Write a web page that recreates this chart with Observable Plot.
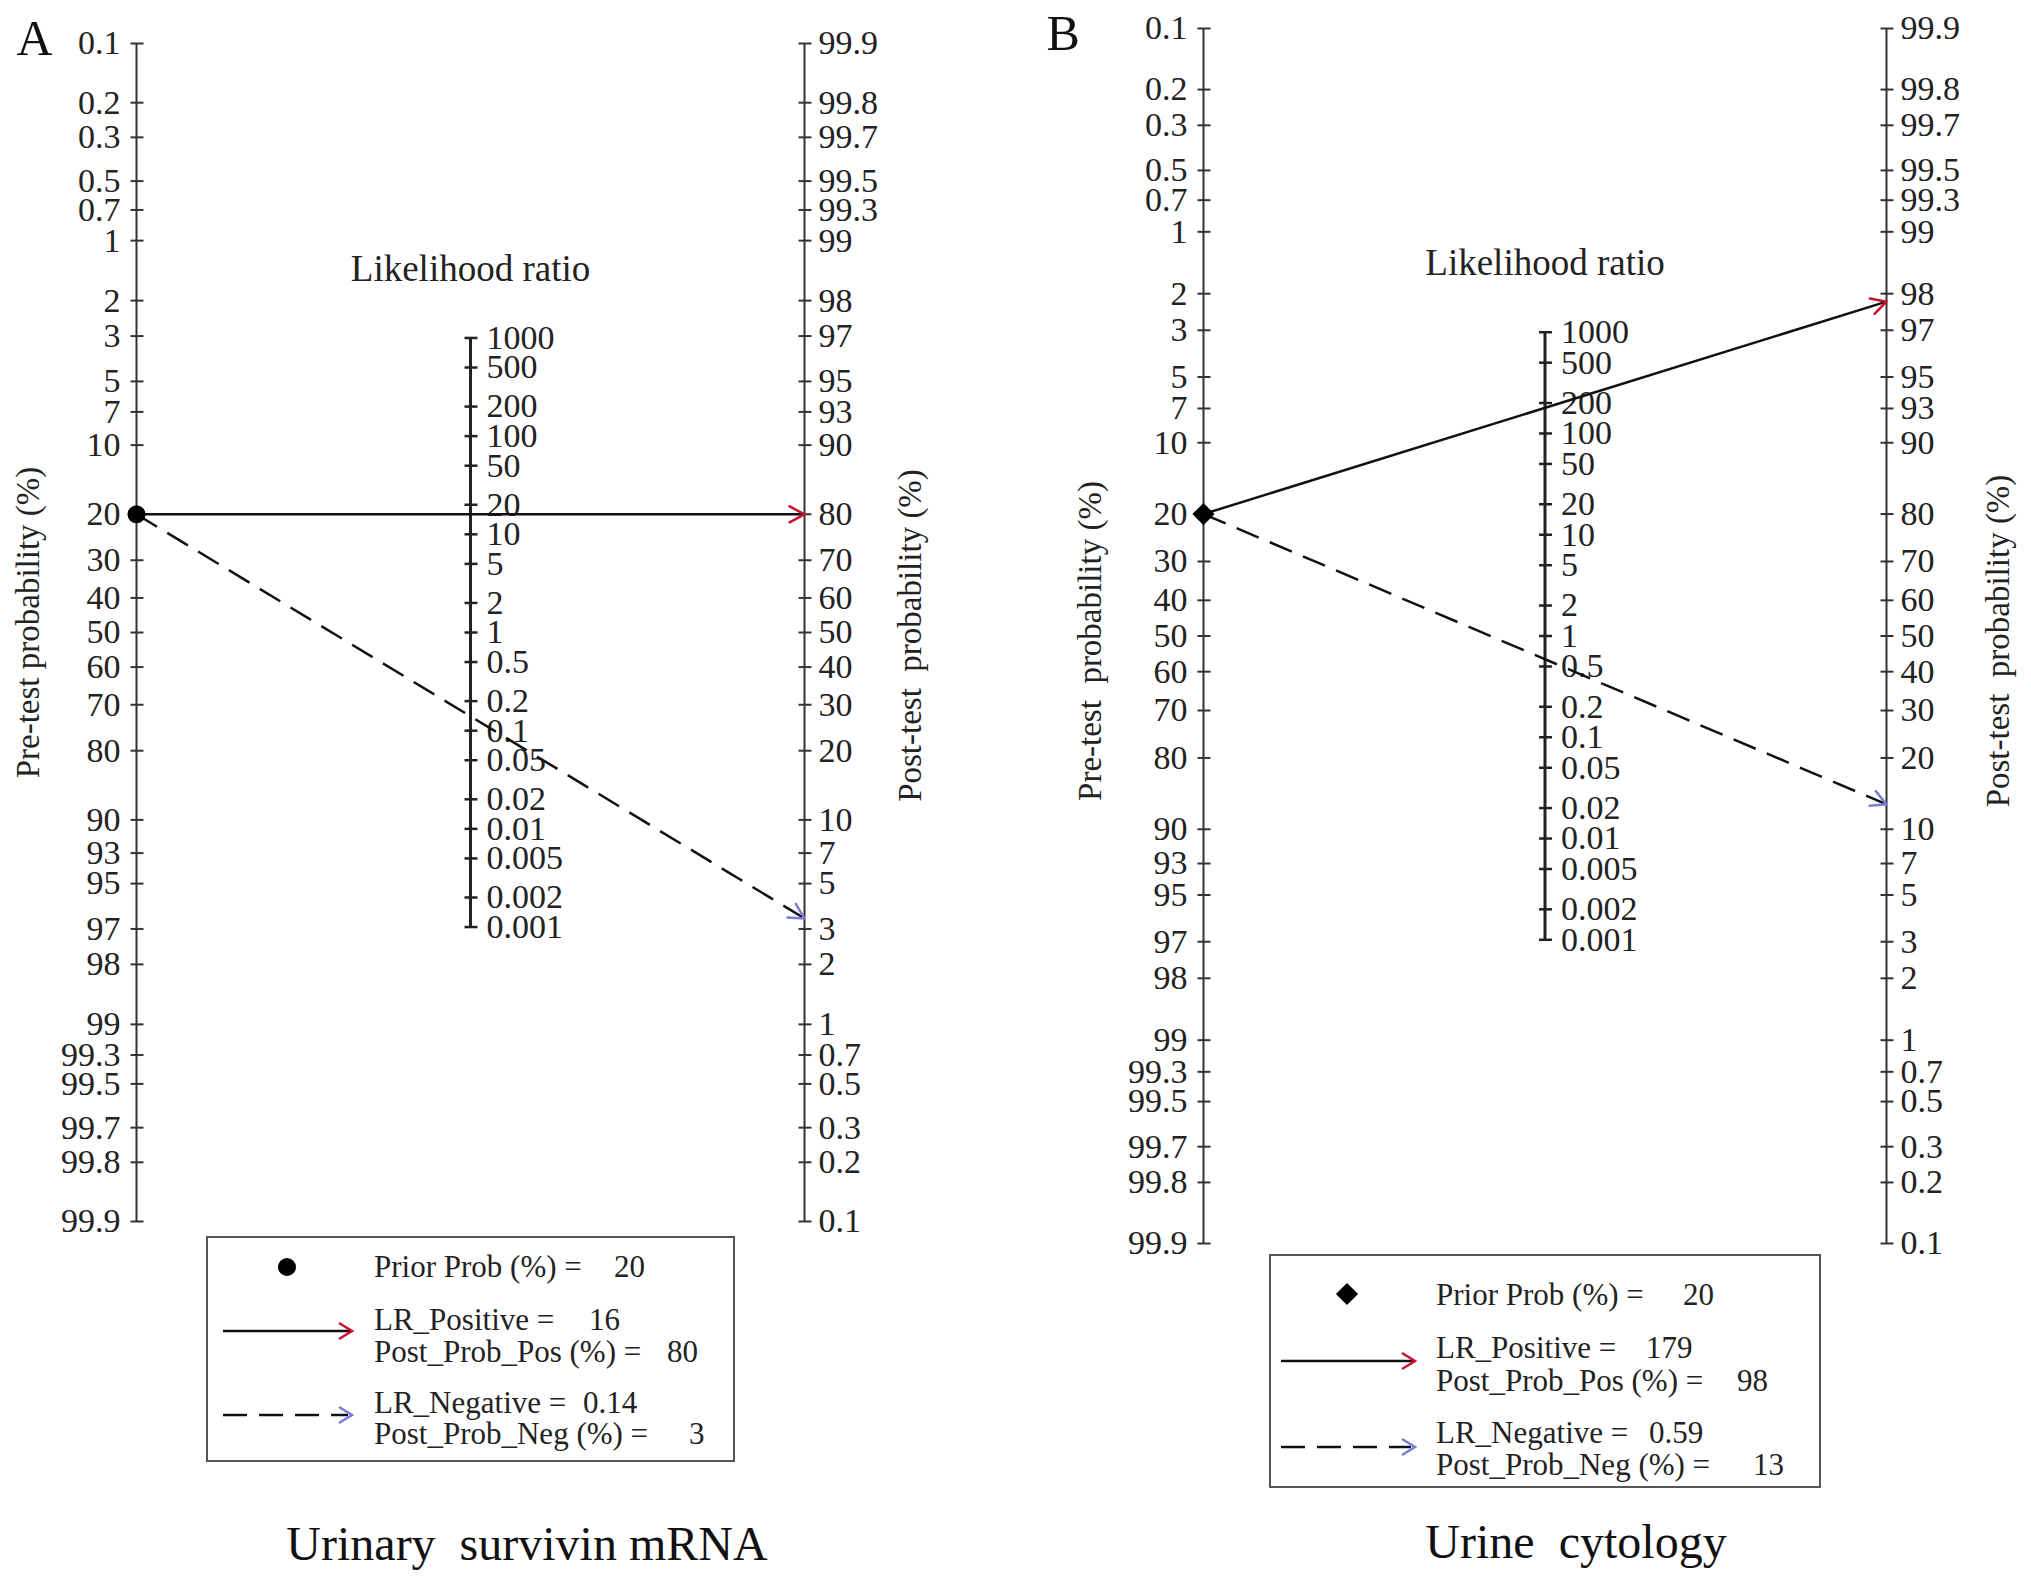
<!DOCTYPE html>
<html><head><meta charset="utf-8">
<script src="https://cdn.jsdelivr.net/npm/d3@7"></script>
<script src="https://cdn.jsdelivr.net/npm/@observablehq/plot@0.6"></script>
<style>
html,body{margin:0;padding:0;background:#fff;}
#root{position:relative;width:2031px;height:1584px;overflow:hidden;}
.panel{position:absolute;top:0;}
#overlay{position:absolute;left:0;top:0;}
</style></head><body><div id="root"></div>
<script>
// ---- data ----
const preTicks = [0.1,0.2,0.3,0.5,0.7,1,2,3,5,7,10,20,30,40,50,60,70,80,90,93,95,97,98,99,99.3,99.5,99.7,99.8,99.9];
const postTicks = [0.1,0.2,0.3,0.5,0.7,1,2,3,5,7,10,20,30,40,50,60,70,80,90,93,95,97,98,99,99.3,99.5,99.7,99.8,99.9];
const lrTicks = [1000,500,200,100,50,20,10,5,2,1,0.5,0.2,0.1,0.05,0.02,0.01,0.005,0.002,0.001];
const panelLetters = ["A","B"];
const captions = ["Urinary\u00a0 survivin mRNA", "Urine\u00a0 cytology"];
const priorProb = [20, 20];
const lrPositive = [16, 179];
const postProbPos = [80, 98];
const lrNegative = [0.14, 0.59];
const postProbNeg = [3, 13];
const priorSymbol = ["circle", "diamond2"];
const legendLabels = ["Prior Prob (%) =", "LR_Positive =", "Post_Prob_Pos (%) =", "LR_Negative =", "Post_Prob_Neg (%) ="];

// ---- layout ----
const FONT = '"Liberation Serif","Times New Roman",serif';
const INK = "#222";
const RED = "#c8102e";
const BLUE = "#7b7bd6";
const DASH = "24 12";
const layouts = [
  {svgLeft:0, w:1015, h:1300, left:136, right:804, top:43, bottom:1221,
   letterDx:-120, letterDy:11, preDx:-108, preDy:-10, postDx:106, postDy:3,
   preLabel:"Pre-test probability (%)", postLabel:"Post-test\u00a0 probability (%)",
   legend:{x:207, y:1237, w:527, h:224, sym:[80,30], l1:[16,145,94], l2:[16,145,178], tx:167,
           rows:[1277,1330,1362,1413,1444], vals:[614,589,667,583,689]},
   cap:[527,1560]},
  {svgLeft:1015, w:1016, h:1300, left:188, right:871, top:28, bottom:1243,
   letterDx:-157, letterDy:21, preDx:-113, preDy:5, postDx:112, postDy:5,
   preLabel:"Pre-test\u00a0 probability (%)", postLabel:"Post-test\u00a0 probability (%)",
   legend:{x:1270, y:1255, w:550, h:232, sym:[77,39], l1:[11,145,106], l2:[11,145,192], tx:166,
           rows:[1305,1358,1391,1443,1475], vals:[1683,1646,1737,1649,1753]},
   cap:[1576,1558]}
];

const logit = p => Math.log(p / (100 - p));
const U = logit(99.9);
const tickSym = {draw(ctx){ ctx.moveTo(-6,0); ctx.lineTo(7,0); }};
const chevron = {draw(ctx){ ctx.moveTo(-8,15); ctx.lineTo(0,0); ctx.lineTo(8,15); }};

const root = document.getElementById("root");

function drawPanel(i) {
  const L = layouts[i];
  const uPrior = logit(priorProb[i]);
  const uPos = -(uPrior + Math.log(lrPositive[i]));
  const uNeg = -(uPrior + Math.log(lrNegative[i]));
  const pxW = L.right - L.left;
  const pxPerU = (L.bottom - L.top) / (2 * U);
  const ang = u2 => 90 + Math.atan2((u2 - uPrior) * pxPerU, pxW) * 180 / Math.PI;
  const lrU = d => -Math.log(d) / 2;

  const chart = Plot.plot({
    width: L.w, height: L.h,
    marginLeft: L.left, marginRight: L.w - L.right, marginTop: L.top, marginBottom: L.h - L.bottom,
    x: {domain: [0, 1], axis: null},
    y: {domain: [-U, U], reverse: true, axis: null},
    style: {fontFamily: FONT, fontSize: "34px", color: INK, background: "transparent", overflow: "visible"},
    marks: [
      // axes
      Plot.ruleX([0, 1], {x: d => d, y1: () => -U, y2: () => U, stroke: "#333", strokeWidth: 2}),
      Plot.ruleX([0.5], {x: d => d, y1: () => lrU(1000), y2: () => lrU(0.001), stroke: "#222", strokeWidth: 3}),
      Plot.dot(preTicks, {x: () => 0, y: d => logit(d), r: 1, symbol: tickSym, fill: "none", stroke: "#333", strokeWidth: 2}),
      Plot.dot(postTicks, {x: () => 1, y: d => -logit(d), r: 1, symbol: tickSym, fill: "none", stroke: "#333", strokeWidth: 2}),
      Plot.dot(lrTicks, {x: () => 0.5, y: d => lrU(d), r: 1, symbol: tickSym, fill: "none", stroke: "#222", strokeWidth: 2.5}),
      Plot.text(preTicks, {x: () => 0, y: d => logit(d), text: d => String(d), textAnchor: "end", dx: -16, fill: INK}),
      Plot.text(postTicks, {x: () => 1, y: d => -logit(d), text: d => String(d), textAnchor: "start", dx: 14, fill: INK}),
      Plot.text(lrTicks, {x: () => 0.5, y: d => lrU(d), text: d => String(d), textAnchor: "start", dx: 16, fill: INK}),
      // titles
      Plot.text(["Likelihood ratio"], {x: () => 0.5, y: () => lrU(1000), dy: -57, text: d => d, lineAnchor: "bottom", textAnchor: "middle", fontSize: 37, fill: INK}),
      Plot.text([L.preLabel], {x: () => 0, y: () => 0, dx: L.preDx, dy: L.preDy, text: d => d, rotate: -90, fontSize: 33, fill: INK}),
      Plot.text([L.postLabel], {x: () => 1, y: () => 0, dx: L.postDx, dy: L.postDy, text: d => d, rotate: -90, fontSize: 33, fill: INK}),
      Plot.text([panelLetters[i]], {frameAnchor: "top-left", dx: L.letterDx, dy: L.letterDy, text: d => d, textAnchor: "start", lineAnchor: "bottom", fontSize: 50, fill: "#111"}),
      // lines
      Plot.link([lrPositive[i]], {x1: () => 0, y1: () => uPrior, x2: () => 1, y2: () => uPos, stroke: "#111", strokeWidth: 2.5}),
      Plot.link([lrNegative[i]], {x1: () => 0, y1: () => uPrior, x2: () => 1, y2: () => uNeg, stroke: "#111", strokeWidth: 2.5, strokeDasharray: DASH}),
      Plot.vector([uPos], {x: () => 1, y: d => d, rotate: d => ang(d), anchor: "start", shape: chevron, stroke: RED, strokeWidth: 2.5}),
      Plot.vector([uNeg], {x: () => 1, y: d => d, rotate: d => ang(d), anchor: "start", shape: chevron, stroke: BLUE, strokeWidth: 2.5}),
      Plot.dot([priorProb[i]], {x: () => 0, y: d => logit(d), symbol: priorSymbol[i], r: i === 0 ? 9 : 10, fill: "#000", stroke: "none"})
    ]
  });
  chart.classList.add("panel");
  chart.style.left = L.svgLeft + "px";
  root.appendChild(chart);
}

drawPanel(0);
drawPanel(1);

// ---- legends and captions ----
const svg = d3.create("svg").attr("id", "overlay").attr("width", 2031).attr("height", 1584)
  .style("font-family", FONT);
function chev(g, x, y, color) {
  g.append("path").attr("d", `M${x-13},${y-8}L${x},${y}L${x-13},${y+8}`)
    .attr("fill", "none").attr("stroke", color).attr("stroke-width", 2.5);
}
layouts.forEach((L, i) => {
  const lg = L.legend;
  const g = svg.append("g").attr("transform", `translate(${lg.x},${lg.y})`);
  g.append("rect").attr("x", 0).attr("y", 0).attr("width", lg.w).attr("height", lg.h)
    .attr("fill", "#fff").attr("stroke", "#555").attr("stroke-width", 2);
  const sym = d3.symbol(i === 0 ? d3.symbolCircle : d3.symbolDiamond2, i === 0 ? Math.PI * 81 : Math.PI * 100);
  g.append("path").attr("d", sym()).attr("transform", `translate(${lg.sym[0]},${lg.sym[1]})`).attr("fill", "#000");
  g.append("line").attr("x1", lg.l1[0]).attr("x2", lg.l1[1] - 2).attr("y1", lg.l1[2]).attr("y2", lg.l1[2])
    .attr("stroke", "#111").attr("stroke-width", 2.5);
  chev(g, lg.l1[1], lg.l1[2], RED);
  g.append("line").attr("x1", lg.l2[0]).attr("x2", lg.l2[1] - 4).attr("y1", lg.l2[2]).attr("y2", lg.l2[2])
    .attr("stroke", "#111").attr("stroke-width", 2.5).attr("stroke-dasharray", DASH);
  chev(g, lg.l2[1], lg.l2[2], BLUE);
  const values = [priorProb[i], lrPositive[i], postProbPos[i], lrNegative[i], postProbNeg[i]];
  legendLabels.forEach((t, k) => {
    svg.append("text").attr("x", lg.x + lg.tx).attr("y", lg.rows[k]).attr("font-size", 31).attr("fill", INK).text(t);
    svg.append("text").attr("x", lg.vals[k]).attr("y", lg.rows[k]).attr("font-size", 31).attr("fill", INK).text(String(values[k]));
  });
  svg.append("text").attr("x", L.cap[0]).attr("y", L.cap[1]).attr("text-anchor", "middle")
    .attr("font-size", 48).attr("fill", "#111").text(captions[i]);
});
root.appendChild(svg.node());
</script>
</body></html>
